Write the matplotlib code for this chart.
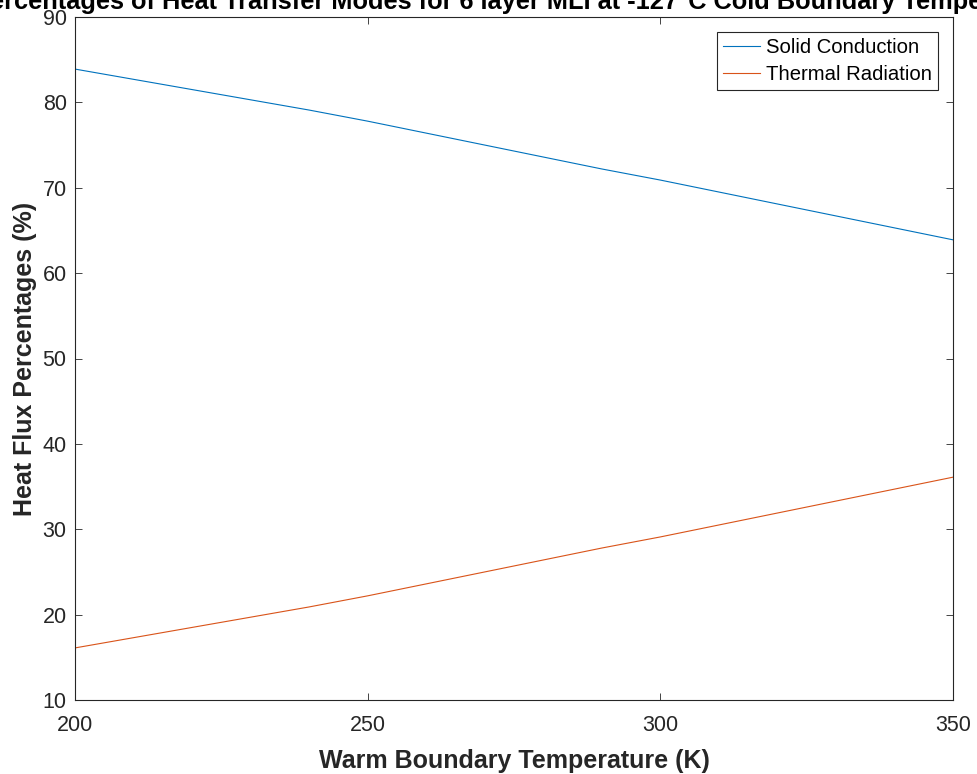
import numpy as np
import matplotlib
matplotlib.use('Agg')
import matplotlib.pyplot as plt

plt.rcParams['font.family'] = ['Liberation Sans', 'DejaVu Sans']

# warm boundary temperature (K) and heat flux share of each mode (%)
T_warm = [200, 210, 220, 230, 240, 250, 260, 270, 280, 290, 300, 310, 320, 330, 340, 350]
solid_cond = [83.9, 82.7, 81.5, 80.3, 79.1, 77.8, 76.4, 75.0, 73.6, 72.2, 70.9, 69.5, 68.1, 66.7, 65.3, 63.9]
therm_rad = [16.1, 17.3, 18.5, 19.7, 20.9, 22.2, 23.6, 25.0, 26.4, 27.8, 29.1, 30.5, 31.9, 33.3, 34.7, 36.1]

fig = plt.figure(figsize=(9.77, 7.74), dpi=100)
ax = fig.add_axes([75/977, 1-700/774, 878/977, 683/774])

ax.plot(T_warm, solid_cond, color='#0072BD', lw=0.8, label='Solid Conduction')
ax.plot(T_warm, therm_rad, color='#D95319', lw=0.8, label='Thermal Radiation')

ax.set_xlim(200, 350)
ax.set_ylim(10, 90)
ax.set_xticks([200, 250, 300, 350])
ax.set_yticks(range(10, 91, 10))
ax.tick_params(direction='in', top=True, right=True, labelsize=15.5, colors='#262626',
               length=5, width=0.6)
ax.tick_params(axis='x', pad=11)
ax.tick_params(axis='y', pad=6)
for s in ax.spines.values():
    s.set_color('#262626')
    s.set_linewidth(0.8)

ax.set_xlabel('Warm Boundary Temperature (K)', fontsize=18, fontweight='bold', color='#262626', labelpad=9)
ax.set_ylabel('Heat Flux Percentages (%)', fontsize=18, fontweight='bold', color='#262626', labelpad=4)
ax.set_title('Percentages of Heat Transfer Modes for 6 layer MLI at -127\u00b0C Cold Boundary Temperature',
             fontsize=18.3, fontweight='bold', pad=6)

leg = ax.legend(loc='upper right', fontsize=14.6, frameon=True, fancybox=False, framealpha=1,
                edgecolor='#262626', handlelength=1.8, handletextpad=0.3,
                borderaxespad=0.75, labelspacing=0.4, borderpad=0.3)
leg.get_frame().set_linewidth(0.8)

fig.savefig('out.png', dpi=100)
